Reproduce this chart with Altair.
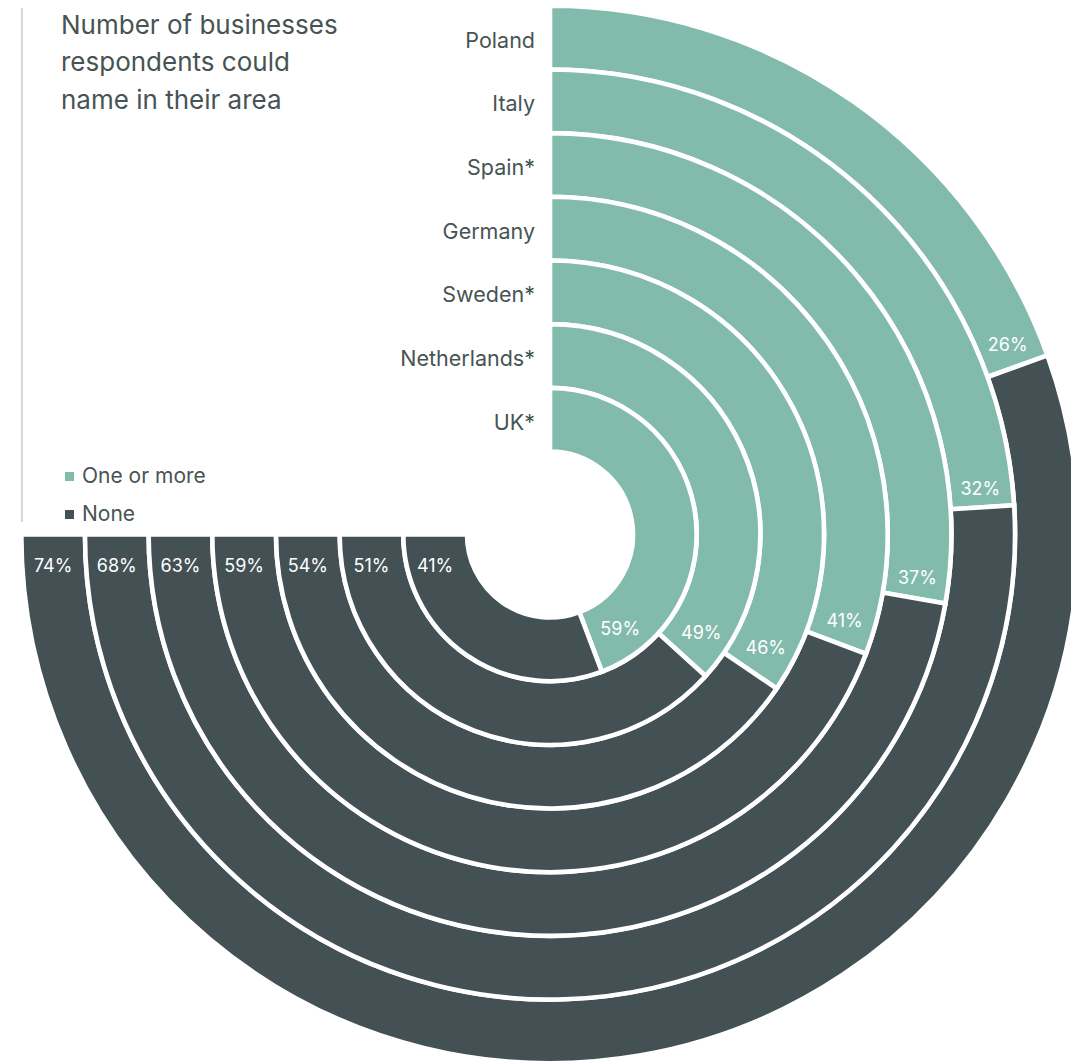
import math
import pandas as pd
import altair as alt

# ---- data ----
countries = ["Poland", "Italy", "Spain*", "Germany", "Sweden*", "Netherlands*", "UK*"]
one_or_more = [26, 32, 37, 41, 46, 49, 59]
none_vals = [74, 68, 63, 59, 54, 51, 41]
categories = ["One or more", "None"]
colors = ["#82bbac", "#435154"]
title_lines = ["Number of businesses", "respondents could", "name in their area"]

# ---- layout constants ----
FONT = "Inter"
TEXT_COLOR = "#475454"
CX, CY = 542, 526.5          # ring centre inside the plot area
R_IN, R_OUT = 83, 528.7      # inner hole / outer edge radii (px)
SWEEP = 1.5 * math.pi        # 100 % = 270 degrees
N = len(countries)
PITCH = (R_OUT - R_IN) / N

arc_rows, lab_rows = [], []
for i, (c, a, b) in enumerate(zip(countries, one_or_more, none_vals)):
    ring = N - 1 - i
    arc_rows.append(dict(country=c, cat=categories[0], start=0, end=a, r0=ring, r1=ring + 1))
    arc_rows.append(dict(country=c, cat=categories[1], start=a, end=a + b, r0=ring, r1=ring + 1))
    rmid_px = R_IN + PITCH * (ring + 0.5)
    th = a / 100 * SWEEP
    dist = 13 + 19 * abs(math.cos(th)) + 8 * abs(math.sin(th))
    delta = math.asin(min(dist / rmid_px, 1))
    lab_rows.append(dict(country=c, rmid=ring + 0.5, zero=0, full=a + b,
                         lab_theta=a - delta / SWEEP * 100,
                         one_lbl=f"{a}%", none_lbl=f"{b}%"))

arcs = pd.DataFrame(arc_rows)
labs = pd.DataFrame(lab_rows)

theta_scale = alt.Scale(domain=[0, 100], range=[0, SWEEP])
radius_scale = alt.Scale(type="linear", domain=[0, N], range=[R_IN, R_OUT], zero=False)

xc = alt.value(CX)
yc = alt.value(CY)

rings = alt.Chart(arcs).mark_arc(stroke="white", strokeWidth=4.6).encode(
    x=xc, y=yc,
    theta=alt.Theta("start:Q", scale=theta_scale, stack=False),
    theta2="end:Q",
    radius=alt.Radius("r1:Q", scale=radius_scale),
    radius2="r0:Q",
    color=alt.Color("cat:N", scale=alt.Scale(domain=categories, range=colors),
                    legend=alt.Legend(orient="none", legendX=51, legendY=458, title=None,
                                      symbolType="square", symbolSize=81, symbolStrokeWidth=0,
                                      labelFont=FONT, labelFontSize=21, labelColor=TEXT_COLOR,
                                      labelOffset=2, rowPadding=16, padding=0)),
)

country_text = alt.Chart(labs).mark_text(
    align="right", baseline="middle", dx=-15, dy=4, font=FONT, fontSize=21.5, color=TEXT_COLOR
).encode(
    x=xc, y=yc,
    theta=alt.Theta("zero:Q", scale=theta_scale, stack=False),
    radius=alt.Radius("rmid:Q", scale=radius_scale),
    text="country:N",
)

one_text = alt.Chart(labs).mark_text(
    align="center", baseline="middle", dy=5, font=FONT, fontSize=18, color="white"
).encode(
    x=xc, y=yc,
    theta=alt.Theta("lab_theta:Q", scale=theta_scale, stack=False),
    radius=alt.Radius("rmid:Q", scale=radius_scale),
    text="one_lbl:N",
)

none_text = alt.Chart(labs).mark_text(
    align="center", baseline="middle", dy=32, font=FONT, fontSize=18, color="white"
).encode(
    x=xc, y=yc,
    theta=alt.Theta("full:Q", scale=theta_scale, stack=False),
    radius=alt.Radius("rmid:Q", scale=radius_scale),
    text="none_lbl:N",
)

title = alt.Chart(pd.DataFrame({"t": ["\n".join(title_lines)]})).mark_text(
    align="left", baseline="alphabetic", lineBreak="\n", lineHeight=37.5,
    font=FONT, fontSize=26, color=TEXT_COLOR
).encode(x=alt.value(53), y=alt.value(25.5), text="t:N")

side_rule = alt.Chart(pd.DataFrame({"a": [0]})).mark_rule(color="#d3d8d8", strokeWidth=2).encode(
    x=alt.value(14), y=alt.value(-2), y2=alt.value(514)
)

chart = alt.layer(side_rule, rings, country_text, one_text, none_text, title).properties(
    width=1063, height=1054, padding=0, autosize="none", background="white"
).configure_view(stroke="transparent")

chart.save("out.html", embed_options={"renderer": "svg", "actions": False})
